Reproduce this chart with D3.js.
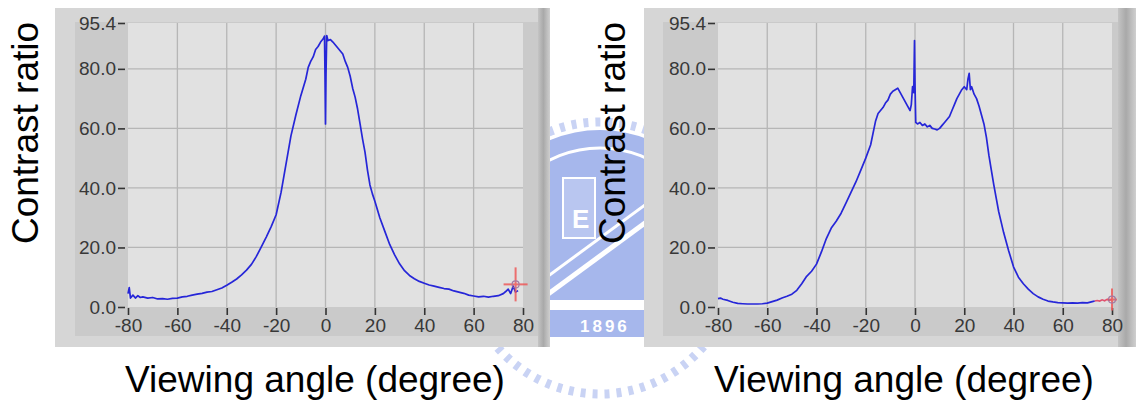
<!DOCTYPE html>
<html lang="en">
<head>
  <meta charset="UTF-8">
  <title>Contrast ratio vs viewing angle</title>
  <script src="https://d3js.org/d3.v7.min.js"></script>
  <style>
    body { margin: 0; background: #fff; }
    svg { display: block; }
    .tick text { font-family: Arial, "Liberation Sans", sans-serif; font-size: 19px; fill: #383838; }
    .title { font-family: Arial, "Liberation Sans", sans-serif; font-size: 37px; fill: #000; }
  </style>
</head>
<body>
  <div id="root"></div>
  <script>
    // ---- data ----
    const xTicks = [-80, -60, -40, -20, 0, 20, 40, 60, 80]
    const yTicks = [0, 20, 40, 60, 80, 95.4]

    const leftAngles = [-80, -79.5, -79, -78, -77, -76, -75, -74, -72, -70, -68, -66, -64, -62, -60, -58, -56, -54, -52, -50,
      -48, -46, -44, -42, -40, -38, -36, -34, -32, -30, -28, -26, -24, -22, -20, -18, -16, -14, -12, -10,
      -8, -7, -6, -5, -4, -3, -2, -1, -0.4, -0.2, 0, 0.2, 0.5, 1, 2, 3, 4, 5, 6, 7,
      8, 9, 10, 11, 12, 13, 14, 15, 16, 17, 18, 19, 20, 22, 24, 26, 28, 30, 32, 34,
      36, 38, 40, 42, 44, 46, 48, 50, 52, 54, 56, 58, 60, 62, 64, 66, 68, 70, 72, 73,
      74, 75, 76, 77, 78]
    const leftValues = [4.5, 6.5, 3.0, 4.0, 3.0, 3.8, 3.2, 3.4, 3.0, 3.2, 2.7, 2.8, 2.6, 2.9, 3.0, 3.4, 3.6, 4.0, 4.3, 4.6,
      5.0, 5.2, 5.8, 6.4, 7.3, 8.3, 9.4, 10.8, 12.4, 14.3, 17.0, 20.2, 23.5, 27.0, 31.0, 38.5, 48.0, 57.5, 64.5, 71.0,
      76.5, 80.5, 82.5, 84.0, 86.5, 87.5, 89.0, 90.0, 91.0, 78.0, 61.5, 78.0, 91.2, 89.5, 89.8, 89.0, 88.0, 87.0, 86.0, 85.0,
      82.5, 80.5, 77.5, 73.5, 70.5, 66.5, 61.5, 56.5, 52.0, 46.0, 41.0, 38.0, 35.5, 30.0, 25.5, 21.0, 17.5, 14.5, 12.2, 10.6,
      9.5, 8.6, 8.0, 7.4, 7.0, 6.6, 6.2, 6.0, 5.4, 5.0, 4.6, 4.0, 3.7, 3.4, 3.6, 3.3, 3.6, 3.8, 4.5, 5.2,
      6.0, 4.5, 7.0, 5.0, 5.5]
    const leftCursor = [77, 7.6]

    const rightAngles = [-80, -79, -78, -76, -74, -72, -70, -68, -66, -64, -62, -60, -58, -56, -54, -52, -50, -48, -46, -44,
      -42, -40, -38, -36, -34, -32, -30, -28, -26, -24, -22, -20, -18, -16, -15, -14, -13, -12, -11, -10,
      -9, -8, -7, -6, -5, -4, -3, -2, -1.5, -1, -0.5, -0.2, 0, 0.3, 1, 2, 3, 4, 5, 6,
      7, 8, 9, 10, 11, 12, 13, 14, 15, 16, 17, 18, 19, 20, 21, 21.5, 22, 22.5, 23, 24,
      25, 26, 27, 28, 29, 30, 31, 32, 33, 34, 35, 36, 38, 40, 42, 44, 46, 48, 50, 52,
      54, 56, 58, 60, 62, 64, 66, 68, 70, 72, 73]
    const rightValues = [2.8, 3.0, 2.6, 2.2, 1.6, 1.2, 1.1, 1.0, 1.0, 1.0, 1.1, 1.3, 1.8, 2.3, 3.0, 3.6, 4.3, 5.6, 7.8, 10.3,
      12.0, 14.4, 18.5, 23.0, 26.5, 28.8, 31.5, 35.0, 38.5, 42.0, 46.0, 50.0, 54.5, 62.5, 65.0, 66.0, 67.0, 68.5, 69.5, 71.5,
      72.5, 73.0, 73.5, 72.0, 70.5, 69.0, 67.5, 66.0, 68.0, 74.0, 72.0, 89.5, 75.0, 62.0, 61.5, 62.0, 61.0, 61.5, 60.5, 61.0,
      60.0, 59.8, 59.5, 60.0, 61.0, 62.0, 63.0, 64.0, 66.0, 68.0, 70.0, 71.5, 73.0, 74.0, 73.0, 76.5, 78.5, 73.0, 74.0, 71.5,
      70.0, 67.5, 64.5, 61.5, 57.0, 51.0, 46.0, 41.0, 36.5, 32.0, 28.5, 25.0, 19.0, 13.5, 10.0, 7.8, 6.0, 4.5, 3.4, 2.6,
      2.0, 1.7, 1.5, 1.4, 1.3, 1.4, 1.3, 1.5, 1.4, 1.8, 2.0]
    const rightRedAngles = [73, 74, 75, 76, 77, 78, 79, 80]
    const rightRedValues = [2.0, 2.2, 2.0, 2.4, 2.1, 2.6, 2.3, 2.5]
    const rightCursor = [80, 2.5]

    const width = 1136
    const height = 403

    const svg = d3.select('#root')
      .append('svg')
        .attr('width', width)
        .attr('height', height)

    const defs = svg.append('defs')
    const edge = defs.append('linearGradient').attr('id', 'edge')
    edge.append('stop').attr('offset', '0%').attr('stop-color', '#c4c4c4')
    edge.append('stop').attr('offset', '45%').attr('stop-color', '#a9a9a9')
    edge.append('stop').attr('offset', '100%').attr('stop-color', '#cfcfcf')

    // ---- faint watermark behind the panels ----
    const wmBlue = '#a6b7ec'
    const wm = svg.append('g')
    const cx = 600, cy = 258
    wm.append('circle')
      .attr('cx', cx).attr('cy', cy).attr('r', 136)
      .attr('fill', 'none')
      .attr('stroke', '#c9d3f4')
      .attr('stroke-width', 9)
      .attr('stroke-dasharray', '5 7')
    defs.append('clipPath').attr('id', 'wmclip')
      .append('rect').attr('x', 540).attr('y', 126).attr('width', 120).attr('height', 211)
    const inner = wm.append('g').attr('clip-path', 'url(#wmclip)')
    inner.append('circle').attr('cx', cx).attr('cy', cy).attr('r', 128).attr('fill', wmBlue)
    inner.append('circle').attr('cx', cx).attr('cy', cy).attr('r', 110)
      .attr('fill', 'none').attr('stroke', '#fff').attr('stroke-width', 3)
    inner.append('rect').attr('x', 563).attr('y', 178).attr('width', 32).attr('height', 60)
      .attr('fill', '#b9c6f0').attr('stroke', '#fff').attr('stroke-width', 2)
    inner.append('text').attr('x', 572).attr('y', 228)
      .attr('fill', '#fff').style('font', 'bold 26px Arial').text('E')
    inner.append('line').attr('x1', 540).attr('y1', 300).attr('x2', 660).attr('y2', 212)
      .attr('stroke', '#fff').attr('stroke-width', 5)
    inner.append('line').attr('x1', 540).attr('y1', 282).attr('x2', 660).attr('y2', 194)
      .attr('stroke', '#fff').attr('stroke-width', 3)
    inner.append('rect').attr('x', 540).attr('y', 300).attr('width', 120).attr('height', 10).attr('fill', '#fff')
    inner.append('text').attr('x', 580).attr('y', 332)
      .attr('fill', '#fff').style('font', 'bold 17px Arial').style('letter-spacing', '3px').text('1896')

    // ---- one LabVIEW-style graph panel ----
    function drawPanel(p) {
      const g = svg.append('g')

      g.append('rect')
        .attr('x', p.frameLeft).attr('y', 8)
        .attr('width', p.frameRight - p.frameLeft).attr('height', 339)
        .attr('fill', '#d6d6d6')
      g.append('rect')
        .attr('x', p.stripLeft).attr('y', 22)
        .attr('width', p.edgeLeft - p.stripLeft).attr('height', 314)
        .attr('fill', '#cacaca')
      g.append('rect')
        .attr('x', p.edgeLeft).attr('y', 8)
        .attr('width', p.frameRight - p.edgeLeft).attr('height', 339)
        .attr('fill', 'url(#edge)')

      const xScale = d3.scaleLinear()
        .domain([-80, 80])
        .range([p.plotLeft, p.plotRight])
      const yScale = d3.scaleLinear()
        .domain([0, 95.4])
        .range([307, 23])

      g.append('rect')
        .attr('x', p.plotLeft).attr('y', yScale(95.4))
        .attr('width', p.plotRight - p.plotLeft).attr('height', yScale(0) - yScale(95.4))
        .attr('fill', '#e1e1e1')

      // grid
      g.append('g')
        .selectAll('line')
        .data(xTicks.slice(1, -1))
        .join('line')
          .attr('x1', d => xScale(d)).attr('x2', d => xScale(d))
          .attr('y1', yScale(95.4)).attr('y2', yScale(0))
          .attr('stroke', '#b6b6b6').attr('stroke-width', 1.3)
      g.append('g')
        .selectAll('line')
        .data([20, 40, 60, 80])
        .join('line')
          .attr('x1', p.plotLeft).attr('x2', p.plotRight)
          .attr('y1', d => yScale(d)).attr('y2', d => yScale(d))
          .attr('stroke', '#b6b6b6').attr('stroke-width', 1.3)

      // axes (plain hyphen for negatives, as in the original)
      const yAxis = g.append('g')
        .attr('transform', `translate(${p.plotLeft - 3}, 0)`)
        .call(d3.axisLeft(yScale).tickValues(yTicks).tickFormat(d => d.toFixed(1)).tickSize(7).tickPadding(2))
      const xAxis = g.append('g')
        .attr('transform', `translate(0, ${yScale(0) + 1})`)
        .call(d3.axisBottom(xScale).tickValues(xTicks).tickFormat(d => String(d)).tickSize(7).tickPadding(4))
      ;[yAxis, xAxis].forEach(a => {
        a.select('.domain').remove()
        a.selectAll('.tick line').attr('stroke', '#333').attr('stroke-width', 1.6)
      })

      const lineGenerator = d3.line()
        .x(d => xScale(d[0]))
        .y(d => yScale(d[1]))

      g.append('path')
        .attr('d', lineGenerator(d3.zip(p.angles, p.values)))
        .attr('fill', 'none')
        .attr('stroke', '#2626d8')
        .attr('stroke-width', 1.7)
        .attr('stroke-linejoin', 'round')

      if (p.redAngles) {
        g.append('path')
          .attr('d', lineGenerator(d3.zip(p.redAngles, p.redValues)))
          .attr('fill', 'none')
          .attr('stroke', '#e0506e')
          .attr('stroke-width', 1.6)
      }

      // cursor
      const cxp = xScale(p.cursor[0])
      const cyp = yScale(p.cursor[1])
      const cur = g.append('g').attr('stroke', '#ee5a5a').attr('stroke-width', 2).attr('opacity', 0.85)
      cur.append('line').attr('x1', cxp - p.curH).attr('x2', cxp + p.curH).attr('y1', cyp).attr('y2', cyp)
      cur.append('line').attr('x1', cxp).attr('x2', cxp).attr('y1', cyp - p.curV).attr('y2', cyp + p.curV)
      cur.append('circle').attr('cx', cxp).attr('cy', cyp).attr('r', 3.5)
        .attr('fill', 'none').attr('stroke', '#9a6a9a').attr('stroke-width', 1.2)

      // axis titles
      svg.append('text')
        .attr('class', 'title')
        .attr('text-anchor', 'middle')
        .attr('transform', `translate(${p.yTitleX}, 133) rotate(-90)`)
        .text('Contrast ratio')
      svg.append('text')
        .attr('class', 'title')
        .attr('text-anchor', 'middle')
        .attr('x', p.xTitleX)
        .attr('y', 392)
        .text('Viewing angle (degree)')
    }

    drawPanel({
      frameLeft: 55, frameRight: 550, stripLeft: 75, edgeLeft: 538,
      plotLeft: 128, plotRight: 523,
      angles: leftAngles, values: leftValues,
      cursor: leftCursor, curH: 12, curV: 17,
      yTitleX: 38, xTitleX: 315
    })
    drawPanel({
      frameLeft: 644, frameRight: 1136, stripLeft: 663, edgeLeft: 1118,
      plotLeft: 718, plotRight: 1112,
      angles: rightAngles, values: rightValues,
      redAngles: rightRedAngles, redValues: rightRedValues,
      cursor: rightCursor, curH: 5, curV: 11,
      yTitleX: 625, xTitleX: 904
    })
  </script>
</body>
</html>
